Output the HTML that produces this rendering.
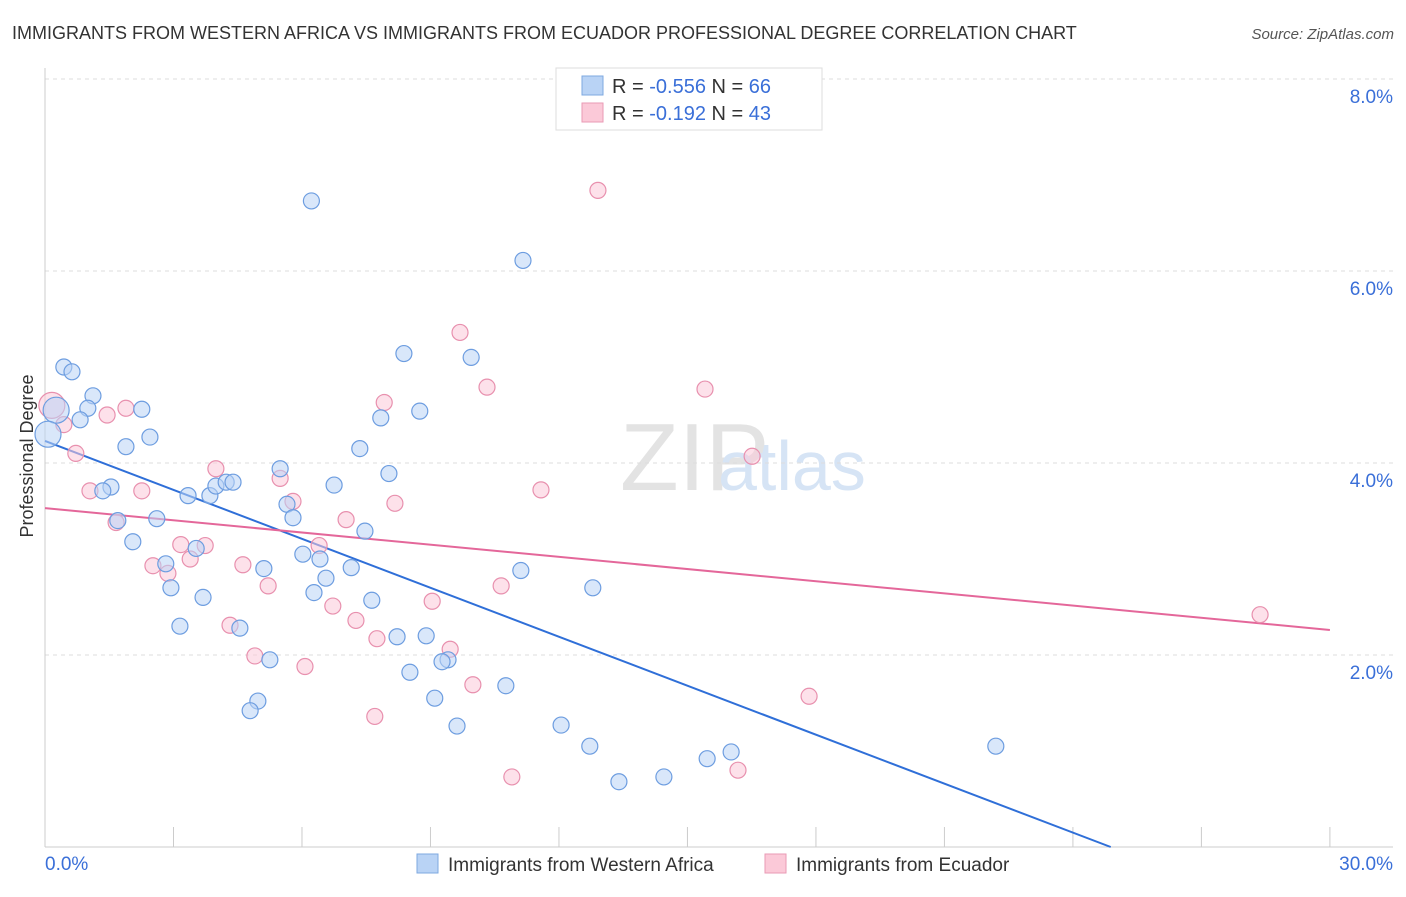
<!DOCTYPE html>
<html><head><meta charset="utf-8"><style>
body{margin:0;background:#fff;font-family:"Liberation Sans",sans-serif;}
svg text{font-family:"Liberation Sans",sans-serif;}
</style></head><body>
<svg id="chart" width="1406" height="892" xmlns="http://www.w3.org/2000/svg">
<text x="12" y="39" font-size="18" fill="#333">IMMIGRANTS FROM WESTERN AFRICA VS IMMIGRANTS FROM ECUADOR PROFESSIONAL DEGREE CORRELATION CHART</text>
<text x="1394" y="39" font-size="15" fill="#555" text-anchor="end" font-style="italic">Source: ZipAtlas.com</text>
<text x="620" y="490" font-size="96" fill="#e3e3e3" font-family="Liberation Serif">ZIP</text>
<text x="718" y="490" font-size="70" fill="#d6e4f5">atlas</text>
<text transform="translate(33,456) rotate(-90)" font-size="18" fill="#333" text-anchor="middle">Professional Degree</text>
<g id="grid"></g><g id="axes"></g><g id="trend"></g><g id="pts"></g>
<g>
<rect x="556" y="68" width="266" height="62" fill="#fff" stroke="#ddd"/>
<rect x="582" y="76" width="21" height="19" fill="#b9d3f5" stroke="#7ea8e0"/>
<text x="612" y="93" font-size="20" fill="#333">R = <tspan fill="#3a6fd8">-0.556</tspan>   N = <tspan fill="#3a6fd8">66</tspan></text>
<rect x="582" y="103" width="21" height="19" fill="#fbc9d8" stroke="#ea9ab5"/>
<text x="612" y="120" font-size="20" fill="#333">R =  <tspan fill="#3a6fd8">-0.192</tspan>   N = <tspan fill="#3a6fd8">43</tspan></text>
</g>
<g>
<rect x="417" y="854" width="21" height="19" fill="#b9d3f5" stroke="#7ea8e0"/>
<text x="448" y="871" font-size="19" fill="#333">Immigrants from Western Africa</text>
<rect x="765" y="854" width="21" height="19" fill="#fbc9d8" stroke="#ea9ab5"/>
<text x="796" y="871" font-size="19" fill="#333">Immigrants from Ecuador</text>
</g>
</svg>
<script>
const yTicks=[2,4,6,8];
const yTickLabels=["2.0%","4.0%","6.0%","8.0%"];
const xTickLabels=["0.0%","30.0%"];
const blueX=[6.22,11.16,0.44,0.63,8.38,9.95,1.12,1.0,2.26,0.26,0.82,2.45,1.89,7.84,8.75,7.35,5.49,8.03,1.54,1.35,3.34,3.85,3.99,4.23,4.39,6.75,5.65,5.79,1.7,2.61,7.47,2.05,3.53,2.82,5.11,6.02,6.42,7.15,6.56,11.11,2.94,12.79,3.69,6.28,7.63,3.15,4.55,8.22,8.9,5.25,9.41,9.27,8.52,4.97,4.79,9.1,10.76,9.62,12.05,12.72,15.46,16.02,14.45,13.4,22.2,0.07];
const blueY=[6.73,6.11,5.0,4.95,5.14,5.1,4.7,4.57,4.56,4.55,4.45,4.27,4.17,4.47,4.54,4.15,3.94,3.89,3.75,3.71,3.66,3.66,3.76,3.8,3.8,3.77,3.57,3.43,3.4,3.42,3.29,3.18,3.11,2.95,2.9,3.05,3.0,2.91,2.8,2.88,2.70,2.70,2.60,2.65,2.57,2.30,2.28,2.19,2.20,1.95,1.95,1.93,1.82,1.52,1.42,1.55,1.68,1.26,1.27,1.05,0.92,0.99,0.73,0.68,1.05,4.3];
const pinkX=[12.91,9.69,10.32,15.41,7.92,0.16,1.89,1.45,0.44,0.72,3.99,16.51,5.49,8.17,5.79,1.05,2.26,11.58,7.03,1.66,3.17,3.74,6.4,3.39,2.52,4.62,2.87,5.21,10.65,9.04,6.72,7.26,4.32,9.46,7.75,4.9,6.07,9.99,17.84,7.7,10.9,16.18,28.37];
const pinkY=[6.84,5.36,4.79,4.77,4.63,4.6,4.57,4.5,4.4,4.1,3.94,4.07,3.84,3.58,3.6,3.71,3.71,3.72,3.41,3.38,3.15,3.14,3.14,3.0,2.93,2.94,2.85,2.72,2.72,2.56,2.51,2.36,2.31,2.06,2.17,1.99,1.88,1.69,1.57,1.36,0.73,0.80,2.42];
const blueLine=[4.23,-0.17];   // intercept, slope (% per %)
const pinkLine=[3.53,-0.0423];
const NS="http://www.w3.org/2000/svg";
const X=v=>45+v*42.83, Y=v=>847-v*96;
function mk(p,t,a){const e=document.createElementNS(NS,t);for(const k in a)e.setAttribute(k,a[k]);p.appendChild(e);return e;}
const grid=document.getElementById('grid'),axes=document.getElementById('axes');
yTicks.forEach((t,i)=>{
 const l=mk(grid,'line',{x1:45,x2:1393,y1:Y(t),y2:Y(t),stroke:'#ddd','stroke-dasharray':'4,4'});
 
 
 const tx=mk(axes,'text',{x:1393,y:Y(t)+24,'font-size':19,fill:'#3a6fd8','text-anchor':'end'});
 tx.textContent=yTickLabels[i];
 
 
});
const g8=mk(grid,'line',{x1:45,x2:1393,y1:79,y2:79,stroke:'#ddd','stroke-dasharray':'4,4'});


const ax=mk(axes,'line',{x1:45,x2:1393,y1:847,y2:847,stroke:'#ccc'});


const ay=mk(axes,'line',{x1:45,x2:45,y1:68,y2:847,stroke:'#ccc'});


for(let i=0;i<=10;i++){const t=mk(axes,'line',{x1:X(i*3),x2:X(i*3),y1:827,y2:847,stroke:'#ccc'});
 
 }
[[0,'start',45],[30,'end',1393]].forEach((d,i)=>{const t=mk(axes,'text',{x:d[2],y:870,'font-size':19,fill:'#3a6fd8','text-anchor':d[1]});t.textContent=xTickLabels[i];
 
 });
const pts=document.getElementById('pts');
function dots(xs,ys,fill,stroke,name){xs.forEach((x,i)=>{const big=x<0.3;const c=mk(pts,'circle',{cx:X(x),cy:Y(ys[i]),r:big?13:8,fill:fill,'fill-opacity':0.55,stroke:stroke,'stroke-width':1.2});
 
 });}
dots(pinkX,pinkY,'#fbc9d8','#e890ae','point-ecuador');
dots(blueX,blueY,'#b9d3f5','#6d9de0','point-western-africa');
const tr=document.getElementById('trend');
const x1b=-blueLine[0]/blueLine[1];
const bl=mk(tr,'line',{x1:X(0),y1:Y(blueLine[0]),x2:X(x1b),y2:Y(0),stroke:'#2f6fd8','stroke-width':2});


const pl=mk(tr,'line',{x1:X(0),y1:Y(pinkLine[0]),x2:X(30),y2:Y(pinkLine[0]+pinkLine[1]*30),stroke:'#e4679a','stroke-width':2});


</script>
</body></html>
